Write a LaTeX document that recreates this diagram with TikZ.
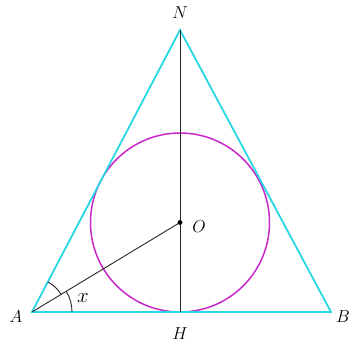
\documentclass[tikz,border=0pt]{standalone}
\begin{document}
\begin{tikzpicture}[x=1pt,y=-1pt,
  tri/.style={draw={rgb,255:red,40;green,215;blue,225},line width=1.8pt},
  circ/.style={draw={rgb,255:red,200;green,40;blue,200},line width=1.5pt},
  seg/.style={draw=black!85,line width=0.9pt},
  lbl/.style={font=\fontsize{17}{19}\selectfont,inner sep=0pt}]
\useasboundingbox (0,0) rectangle (351,344);
\coordinate (A) at (32,312);
\coordinate (B) at (331,312);
\coordinate (N) at (180,30);
\coordinate (H) at (180,312);
\coordinate (O) at (180,222.5);
\draw[circ] (O) circle (89.5);
\draw[tri] (A) -- (B) -- (N) -- cycle;
\draw[seg] (N) -- (H);
\draw[seg] (A) -- (O);
\fill (O) circle (2.4);
\draw[seg] (A) ++(-62.1:34) arc[start angle=-62.1,end angle=-31,radius=34];
\draw[seg] (A) ++(-31:40) arc[start angle=-31,end angle=0,radius=40];
\node[lbl] (lA) at (16,317) {$A$};
\node[lbl] (lB) at (343,317) {$B$};
\node[lbl] (lN) at (180,13) {$N$};
\node[lbl] (lH) at (180,334) {$H$};
\node[lbl] (lO) at (199,227) {$O$};
\node[lbl,font=\fontsize{20}{22}\selectfont] (lx) at (83,298) {$x$};
\end{tikzpicture}
\end{document}
